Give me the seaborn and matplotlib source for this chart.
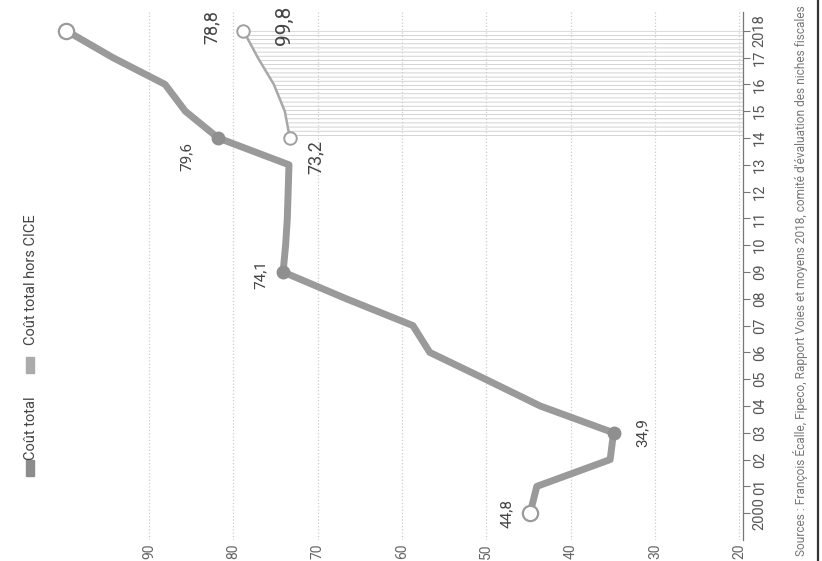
import pandas as pd
import matplotlib.pyplot as plt
import seaborn as sns
from matplotlib.patches import Rectangle
from matplotlib.lines import Line2D

# Data (billions d'euros)
years = list(range(2000, 2019))
cout_total = [44.8, 44.0, 35.3, 34.9, 43.6, 50.1, 56.7, 58.7, 66.6, 74.1,
              73.8, 73.6, 73.5, 73.4, 81.8, 85.7, 88.1, 94.3, 99.8]
years_cice = [2014, 2015, 2016, 2017, 2018]
hors_cice = [73.3, 73.9, 75.2, 77.1, 78.8]

value_ticks = [20, 30, 40, 50, 60, 70, 80, 90]
year_labels = ['2000', '01', '02', '03', '04', '05', '06', '07', '08', '09',
               '10', '11', '12', '13', '14', '15', '16', '17', '2018']

filled_years = [2003, 2009, 2014]
open_years = [2000, 2018]
total_labels = {2000: '44,8', 2003: '34,9', 2009: '74,1', 2014: '79,6', 2018: '99,8'}
cice_labels = {2014: '73,2', 2018: '78,8'}

sns.set_style('white')
plt.rcParams['font.family'] = ['Roboto', 'DejaVu Sans']
plt.rcParams['hatch.linewidth'] = 0.6

df_total = pd.DataFrame({'annee': years, 'cout': cout_total})
df_cice = pd.DataFrame({'annee': years_cice, 'cout': hors_cice})

fig = plt.figure(figsize=(8.22, 5.61), dpi=100)
ax = fig.add_axes([0.027, 0.037, 0.877, 0.942])

# chart is drawn turned a quarter turn: values run right to left, years bottom to top
ax.set_xlim(105.05, 19.53)
ax.set_ylim(1998.99, 2018.71)

# hatched CICE area
ax.fill_betweenx(years_cice, hors_cice, 19.53, facecolor='none',
                 hatch='----', edgecolor='#cdcdcd', linewidth=0)

sns.lineplot(data=df_total, x='cout', y='annee', sort=False, estimator=None,
             color='#9a9a9a', linewidth=5, ax=ax)
sns.lineplot(data=df_cice, x='cout', y='annee', sort=False, estimator=None,
             color='#a8a8a8', linewidth=1.8, ax=ax)

# markers
f = df_total[df_total['annee'].isin(filled_years)]
o = df_total[df_total['annee'].isin(open_years)]
ax.plot(f['cout'], f['annee'], 'o', ms=9, color='#8f8f8f', zorder=5)
ax.plot(o['cout'], o['annee'], 'o', ms=11, mfc='white', mec='#9a9a9a', mew=1.6, zorder=5)
ax.plot(df_cice['cout'].iloc[[0, -1]], df_cice['annee'].iloc[[0, -1]], 'o', ms=9,
        mfc='white', mec='#a0a0a0', mew=1.4, zorder=5)

# value labels
offsets = {2000: (-16.5, 0), 2003: (21, 0), 2009: (-16, -1.5), 2014: (-23, -13), 2018: (157, 4)}
for yr, txt in total_labels.items():
    v = cout_total[years.index(yr)]
    fs = 15 if yr == 2018 else 11
    ax.annotate(txt, (v, yr), xytext=offsets[yr], textcoords='offset points',
                rotation=90, ha='center', va='center', fontsize=fs, color='#444444')
cice_off = {2014: (19, -14), 2018: (-23, 3)}
for yr, txt in cice_labels.items():
    v = hors_cice[years_cice.index(yr)]
    ax.annotate(txt, (v, yr), xytext=cice_off[yr], textcoords='offset points',
                rotation=90, ha='center', va='center', fontsize=13, color='#444444')

# axes styling
for s in ['top', 'left', 'bottom']:
    ax.spines[s].set_visible(False)
ax.spines['right'].set_color('#777777')
ax.spines['right'].set_linewidth(0.9)

ax.set_xticks(value_ticks)
ax.set_xticklabels([str(v) for v in value_ticks], rotation=90, fontsize=10, color='#666666')
ax.tick_params(axis='x', length=0, pad=2)
ax.grid(axis='x', color='#cccccc', linestyle=':', linewidth=0.9)
ax.grid(axis='y', visible=False)

ax.yaxis.tick_right()
ax.set_yticks(years)
ax.set_yticklabels(year_labels, rotation=90, va='center', fontsize=10.5, color='#555555')
ax.tick_params(axis='y', length=5, width=0.8, color='#777777', pad=2)
ax.set_xlabel('')
ax.set_ylabel('')

# legend, turned with the chart
fig.add_artist(Rectangle((26 / 822, 1 - 476 / 561), 8 / 822, 16 / 561,
                         transform=fig.transFigure, color='#8c8c8c'))
fig.text(31 / 822, 1 - 428 / 561, 'Coût total', rotation=90, ha='center', va='center',
         fontsize=10.5, color='#444444')
fig.add_artist(Rectangle((26 / 822, 1 - 373 / 561), 8 / 822, 16 / 561,
                         transform=fig.transFigure, color='#ababab'))
fig.text(31 / 822, 1 - 280 / 561, 'Coût total hors CICE', rotation=90, ha='center',
         va='center', fontsize=10.5, color='#444444')

# source, and the page edge on the right
fig.text(800 / 822, 1 - 556 / 561,
         "Sources : François Écalle, Fipeco, Rapport Voies et moyens 2018, comité d'évaluation des niches fiscales",
         rotation=90, ha='center', va='bottom', fontsize=8.6, color='#777777')
fig.add_artist(Line2D([818 / 822, 818 / 822], [0, 1], transform=fig.transFigure,
                      color='#333333', linewidth=1.6))

fig.savefig('out.png', dpi=100)
